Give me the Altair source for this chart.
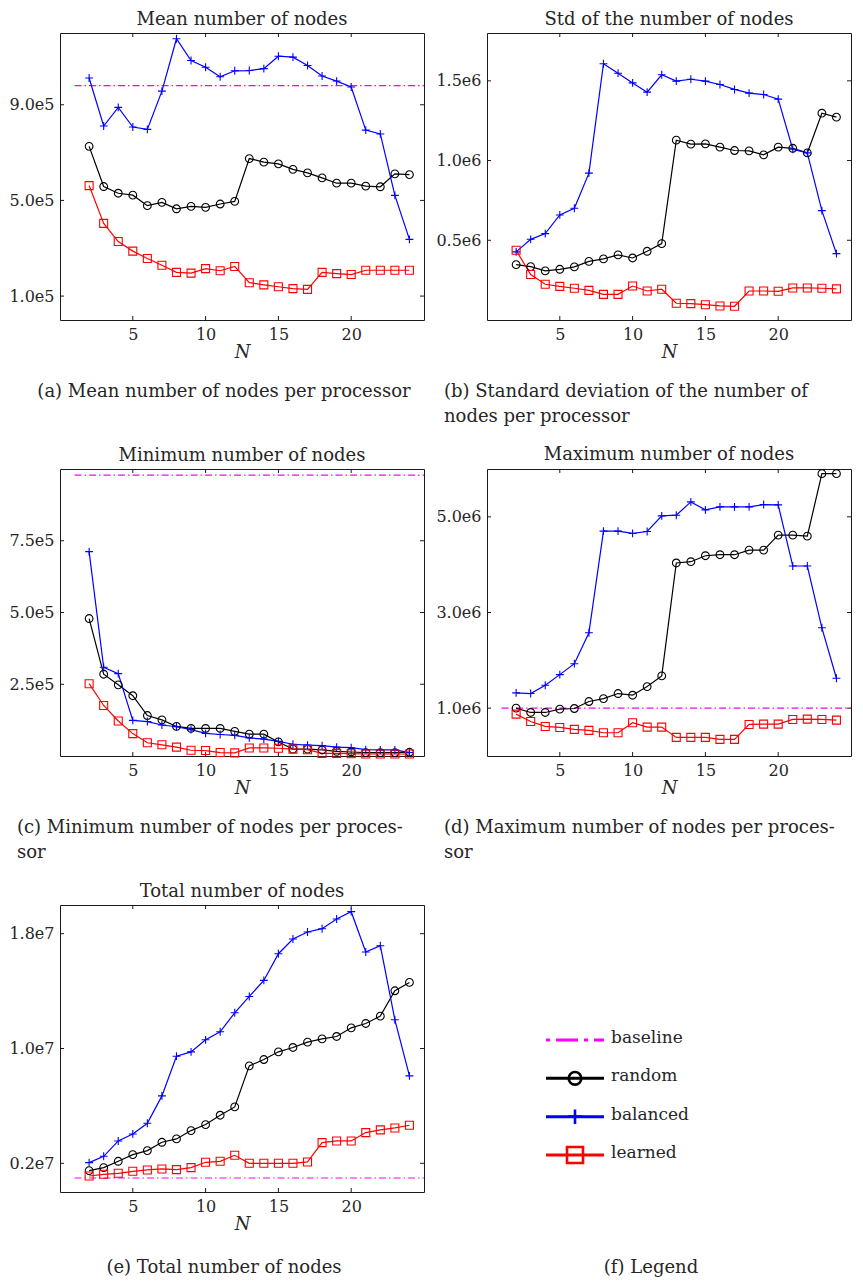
import altair as alt
import pandas as pd

SERIF = "DejaVu Serif"
TEXT = "#262626"
FRAME = "#1a1a1a"

N = list(range(2, 25))
X_TICKS = [5, 10, 15, 20]
SERIES = ["random", "balanced", "learned"]
LEGEND_NAMES = ["baseline", "random", "balanced", "learned"]
COLORS = ["#000000", "#0000ff", "#ff0000"]
BASELINE_COLOR = "#ff00ff"
PLUS = "M-1,0L1,0M0,-1L0,1"

# (a) mean number of nodes per processor
mean_random = [726000, 558000, 530000, 522000, 478000, 492000, 465000, 475000, 471000, 485000, 496000,
               675000, 660000, 653000, 630000, 615000, 594000, 572000, 572000, 560000, 557000, 611000, 608000]
mean_balanced = [1012000, 811000, 889000, 807000, 797000, 957000, 1176000, 1085000, 1057000, 1017000, 1042000,
                 1043000, 1051000, 1103000, 1099000, 1064000, 1020000, 999000, 974000, 794000, 778000, 521000, 337000]
mean_learned = [562000, 404000, 328000, 288000, 257000, 229000, 199000, 196000, 215000, 206000, 224000,
                156000, 147000, 139000, 131000, 128000, 199000, 194000, 190000, 208000, 208000, 208000, 208000]
mean_baseline = 980000

# (b) standard deviation
std_random = [347000, 335000, 308000, 318000, 333000, 368000, 383000, 408000, 389000, 431000, 479000,
              1128000, 1103000, 1105000, 1084000, 1063000, 1061000, 1036000, 1084000, 1077000, 1048000, 1297000, 1272000]
std_balanced = [427000, 506000, 542000, 659000, 701000, 921000, 1607000, 1548000, 1487000, 1429000, 1538000,
                1498000, 1510000, 1498000, 1477000, 1446000, 1423000, 1414000, 1385000, 1071000, 1048000, 686000, 416000]
std_learned = [437000, 285000, 224000, 211000, 199000, 186000, 161000, 161000, 213000, 182000, 193000,
               105000, 103000, 96000, 88000, 86000, 182000, 182000, 180000, 201000, 201000, 199000, 195000]

# (c) minimum
min_random = [479000, 285000, 248000, 210000, 141000, 126000, 103000, 96000, 96000, 96000, 86000,
              76000, 76000, 49000, 24000, 24000, 21000, 16000, 14000, 12000, 12000, 12000, 13000]
min_balanced = [712000, 309000, 287000, 124000, 120000, 108000, 102000, 92000, 79000, 75000, 72000,
                63000, 59000, 51000, 41000, 38000, 36000, 31000, 29000, 22000, 21000, 21000, 12000]
min_learned = [252000, 176000, 122000, 78000, 46000, 39000, 31000, 20000, 19000, 12000, 11000,
               28000, 28000, 27000, 24000, 22000, 9000, 9000, 8000, 7000, 7000, 7000, 7000]
min_baseline = 979000

# (d) maximum
max_random = [1000000, 910000, 910000, 979000, 993000, 1139000, 1201000, 1306000, 1271000, 1451000, 1674000,
              4035000, 4062000, 4187000, 4208000, 4208000, 4305000, 4305000, 4618000, 4618000, 4597000, 5902000, 5902000]
max_balanced = [1319000, 1306000, 1479000, 1701000, 1930000, 2576000, 4701000, 4701000, 4653000, 4694000, 5021000,
                5034000, 5312000, 5146000, 5208000, 5208000, 5208000, 5257000, 5250000, 3972000, 3972000, 2680000, 1625000]
max_learned = [875000, 722000, 618000, 597000, 556000, 535000, 486000, 486000, 695000, 604000, 604000,
               389000, 389000, 389000, 347000, 347000, 660000, 667000, 667000, 764000, 771000, 764000, 750000]
max_baseline = 1000000

# (e) total
total_random = [1488000, 1698000, 2140000, 2605000, 2884000, 3465000, 3698000, 4279000, 4698000, 5349000, 5930000,
                8791000, 9233000, 9767000, 10070000, 10440000, 10674000, 10837000, 11442000, 11744000, 12256000,
                14023000, 14605000]
total_balanced = [2047000, 2488000, 3558000, 4047000, 4791000, 6698000, 9465000, 9767000, 10605000, 11163000,
                  12488000, 13628000, 14744000, 16605000, 17628000, 18116000, 18349000, 19023000, 19535000,
                  16721000, 17163000, 12000000, 8093000]
total_learned = [1116000, 1233000, 1302000, 1442000, 1535000, 1605000, 1558000, 1698000, 2070000, 2140000, 2558000,
                 2000000, 2000000, 2000000, 2000000, 2093000, 3442000, 3558000, 3558000, 4140000, 4326000,
                 4465000, 4651000]
total_baseline = 977000

W = 364
H = 287
CAP_FONT = 18


def caption_layers(lines, mode, y0):
    layers = []
    for i, line in enumerate(lines):
        if mode == "center":
            mk = alt.Chart(alt.Data(values=[{}])).mark_text(
                text=line, align="center", baseline="middle", font=SERIF, fontSize=CAP_FONT, color=TEXT)
            layers.append(mk.encode(x=alt.value(164), y=alt.value(y0 + 25 * i)))
        else:
            mk = alt.Chart(alt.Data(values=[{}])).mark_text(
                text=line, align="left", baseline="middle", font=SERIF, fontSize=CAP_FONT, color=TEXT)
            layers.append(mk.encode(x=alt.value(-43), y=alt.value(y0 + 25 * i)))
    return layers


def make_panel(title, rand, bal, learn, baseline, ydomain, yticks, exp, cap_lines, cap_mode, cap_y):
    df = pd.DataFrame({
        "N": N * 3,
        "value": rand + bal + learn,
        "series": [s for s in SERIES for _ in N],
    })
    x = alt.X("N:Q", scale=alt.Scale(domain=[0, 25], nice=False, zero=False),
              axis=alt.Axis(values=X_TICKS, title="N", labelPadding=6, titlePadding=1))
    y = alt.Y("value:Q", scale=alt.Scale(domain=ydomain, nice=False, zero=False),
              axis=alt.Axis(values=yticks, title=None, labelPadding=6,
                            labelExpr=f"format(datum.value / 1e{exp}, '.1f') + 'e{exp}'"))
    color = alt.Color("series:N", scale=alt.Scale(domain=SERIES, range=COLORS), legend=None)
    shape = alt.Shape("series:N", scale=alt.Scale(domain=SERIES, range=["circle", PLUS, "square"]), legend=None)
    size = alt.Size("series:N", scale=alt.Scale(domain=SERIES, range=[60, 64, 28]), legend=None)

    xt = pd.DataFrame({"N": X_TICKS})
    yt = pd.DataFrame({"value": yticks})
    layers = [
        alt.Chart(xt).mark_rule(color=FRAME, strokeWidth=1).encode(x=x, y=alt.value(0), y2=alt.value(4)),
        alt.Chart(xt).mark_rule(color=FRAME, strokeWidth=1).encode(x=x, y=alt.value(H), y2=alt.value(H - 4)),
        alt.Chart(yt).mark_rule(color=FRAME, strokeWidth=1).encode(y=y, x=alt.value(0), x2=alt.value(4)),
        alt.Chart(yt).mark_rule(color=FRAME, strokeWidth=1).encode(y=y, x=alt.value(W - 4), x2=alt.value(W)),
    ]
    if baseline is not None:
        bdf = pd.DataFrame({"N": [1, 25], "value": [baseline, baseline]})
        layers.append(alt.Chart(bdf).mark_line(color=BASELINE_COLOR, strokeWidth=1.2,
                                               strokeDash=[7, 3, 1.5, 3]).encode(x=x, y=y))
    layers.append(alt.Chart(df).mark_line(strokeWidth=1.2).encode(x=x, y=y, color=color))
    layers.append(alt.Chart(df).mark_point(filled=False, strokeWidth=1.1, opacity=1).encode(
        x=x, y=y, color=color, shape=shape, size=size))
    layers += caption_layers(cap_lines, cap_mode, cap_y)
    return alt.layer(*layers).properties(
        width=W, height=H,
        title=alt.TitleParams(text=title, font=SERIF, fontSize=18, fontWeight="normal",
                              color=TEXT, offset=4, anchor="middle"),
    )


pa = make_panel("Mean number of nodes", mean_random, mean_balanced, mean_learned, mean_baseline,
                [0, 1.2e6], [1e5, 5e5, 9e5], 5,
                ["(a) Mean number of nodes per processor"], "center", 359)
pb = make_panel("Std of the number of nodes", std_random, std_balanced, std_learned, None,
                [0, 1.8e6], [5e5, 1e6, 1.5e6], 6,
                ["(b) Standard deviation of the number of", "nodes per processor"], "left", 359)
pc = make_panel("Minimum number of nodes", min_random, min_balanced, min_learned, min_baseline,
                [0, 1e6], [2.5e5, 5e5, 7.5e5], 5,
                ["(c) Minimum number of nodes per proces-", "sor"], "left", 359)
pd_ = make_panel("Maximum number of nodes", max_random, max_balanced, max_learned, max_baseline,
                 [0, 6e6], [1e6, 3e6, 5e6], 6,
                 ["(d) Maximum number of nodes per proces-", "sor"], "left", 359)
pe = make_panel("Total number of nodes", total_random, total_balanced, total_learned, total_baseline,
                [0, 2e7], [2e6, 1e7, 1.8e7], 7,
                ["(e) Total number of nodes"], "center", 363)

# (f) legend panel
ldf = pd.DataFrame({"series": LEGEND_NAMES})
ly = alt.Y("series:N", scale=alt.Scale(type="point", domain=LEGEND_NAMES, range=[135, 250], padding=0), axis=None)
lcolor = alt.Color("series:N", scale=alt.Scale(domain=LEGEND_NAMES, range=[BASELINE_COLOR] + COLORS), legend=None)
ldash = alt.StrokeDash("series:N", scale=alt.Scale(domain=LEGEND_NAMES,
                                                   range=[[4, 6, 22, 6], [1, 0], [1, 0], [1, 0]]), legend=None)
leg_rules = alt.Chart(ldf).mark_rule(strokeWidth=3).encode(
    x=alt.value(59), x2=alt.value(117), y=ly, color=lcolor, strokeDash=ldash)
leg_pts = alt.Chart(ldf).transform_filter("datum.series != 'baseline'").mark_point(
    filled=False, strokeWidth=2.6, opacity=1).encode(
    x=alt.value(88), y=ly, color=lcolor,
    shape=alt.Shape("series:N", scale=alt.Scale(domain=SERIES, range=["circle", PLUS, "square"]), legend=None),
    size=alt.Size("series:N", scale=alt.Scale(domain=SERIES, range=[160, 256, 160]), legend=None))
leg_text = alt.Chart(ldf).mark_text(align="left", baseline="middle", font=SERIF, fontSize=17,
                                    color=TEXT, dy=-2).encode(x=alt.value(124), y=ly, text="series:N")
pf = alt.layer(leg_rules, leg_pts, leg_text, *caption_layers(["(f) Legend"], "center", 363)).properties(
    width=W, height=H, view=alt.ViewBackground(stroke="transparent"))

chart = alt.concat(pa, pb, pc, pd_, pe, pf, columns=2,
                   spacing=alt.RowColnumber(row=149, column=63), bounds="flush").resolve_scale(
    x="independent", y="independent", color="independent", shape="independent",
    size="independent", strokeDash="independent"
).properties(padding={"top": 2, "left": 0, "right": 0, "bottom": 0}).configure_view(
    stroke=FRAME, strokeWidth=1).configure_axis(
    domain=False, ticks=False, grid=False,
    labelFont=SERIF, labelFontSize=16, labelColor=TEXT,
    titleFont=SERIF, titleFontSize=18, titleFontStyle="italic", titleFontWeight="normal", titleColor=TEXT,
)

chart.save("out.html", embed_options={"renderer": "svg", "actions": False})
